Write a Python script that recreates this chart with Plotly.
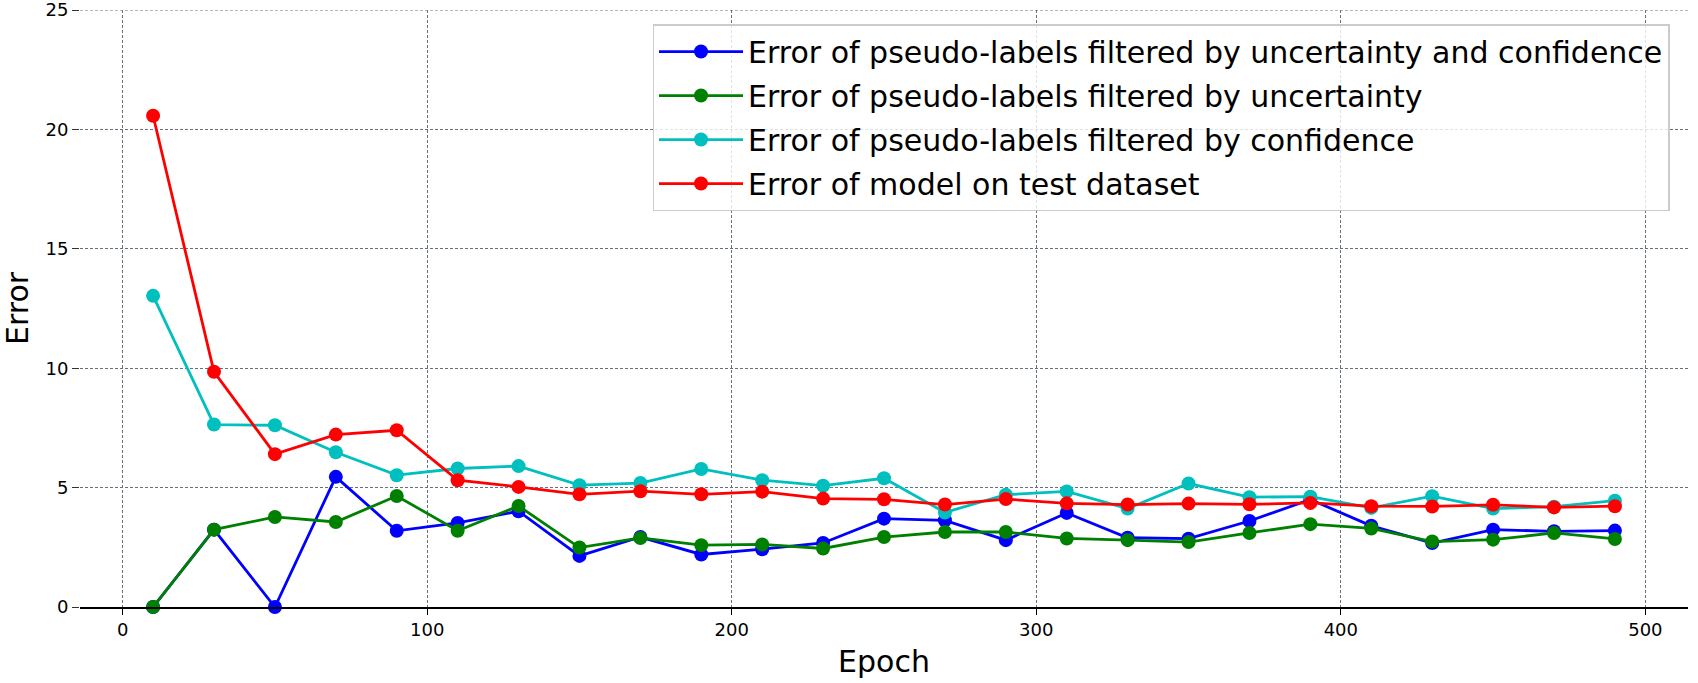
import plotly.graph_objects as go

epochs = [10, 30, 50, 70, 90, 110, 130, 150, 170, 190, 210, 230, 250,
          270, 290, 310, 330, 350, 370, 390, 410, 430, 450, 470, 490]

err_unc_conf = [0.0, 3.24, 0.0, 5.45, 3.19, 3.52, 4.01, 2.14, 2.93, 2.20, 2.42, 2.68, 3.70,
                3.63, 2.80, 3.94, 2.90, 2.86, 3.60, 4.50, 3.40, 2.68, 3.24, 3.17, 3.20]
err_unc = [0.0, 3.24, 3.77, 3.56, 4.65, 3.19, 4.23, 2.49, 2.89, 2.59, 2.62, 2.45, 2.93,
           3.14, 3.14, 2.87, 2.80, 2.72, 3.10, 3.47, 3.29, 2.74, 2.82, 3.10, 2.85]
err_conf = [13.03, 7.64, 7.61, 6.48, 5.52, 5.80, 5.90, 5.10, 5.19, 5.78, 5.31, 5.08, 5.39,
            3.96, 4.70, 4.84, 4.12, 5.17, 4.60, 4.62, 4.15, 4.64, 4.12, 4.20, 4.45]
err_test = [20.57, 9.85, 6.40, 7.22, 7.40, 5.31, 5.03, 4.72, 4.85, 4.72, 4.83, 4.54, 4.51,
            4.29, 4.52, 4.34, 4.29, 4.33, 4.30, 4.36, 4.22, 4.21, 4.28, 4.17, 4.22]

series_names = [
    "Error of pseudo-labels filtered by uncertainty and confidence",
    "Error of pseudo-labels filtered by uncertainty",
    "Error of pseudo-labels filtered by confidence",
    "Error of model on test dataset",
]
series_values = [err_unc_conf, err_unc, err_conf, err_test]
series_colors = ["#0000ff", "#008000", "#00bfbf", "#ff0000"]

x_ticks = [0, 100, 200, 300, 400, 500]
y_ticks = [0, 5, 10, 15, 20, 25]

FONT = "DejaVu Sans"
GRID_COLOR = "#66717c"
GRID_DASH = "3px,2px"

fig = go.Figure()
for i, (name, vals, col) in enumerate(zip(series_names, series_values, series_colors)):
    fig.add_trace(go.Scatter(
        x=epochs, y=vals, name=name, mode="lines+markers",
        line=dict(color=col, width=2.8),
        marker=dict(color=col, size=14),
        legendgroup=f"g{i}",
        cliponaxis=False,
    ))

grid = dict(showgrid=True, gridcolor=GRID_COLOR, griddash=GRID_DASH, gridwidth=1)

# top gridline at the upper edge of the y range (plotly skips gridlines at the range ends)
fig.add_shape(type="line", xref="paper", yref="y", x0=0, x1=1, y0=y_ticks[-1], y1=y_ticks[-1],
              line=dict(color=GRID_COLOR, width=1, dash=GRID_DASH), layer="below")

fig.update_layout(
    width=1698, height=683,
    margin=dict(l=80, r=10, t=10, b=76),
    paper_bgcolor="white", plot_bgcolor="white",
    font=dict(family=FONT, color="black"),
    showlegend=True,
    legend=dict(
        x=0.9885, y=0.9765, xanchor="right", yanchor="top",
        bgcolor="rgba(255,255,255,0.8)", bordercolor="#cccccc", borderwidth=1.5,
        font=dict(family=FONT, size=30, color="black"),
        tracegroupgap=2, itemwidth=84,
    ),
    xaxis=dict(
        range=[-14, 514], tickvals=x_ticks, ticktext=[str(v) for v in x_ticks],
        ticks="outside", ticklen=6, tickwidth=1.3, tickcolor="black",
        tickfont=dict(family=FONT, size=18, color="black"),
        showline=True, linecolor="black", linewidth=1.5,
        zeroline=False, automargin=False, ticklabeloverflow="allow",
        title=dict(text="Epoch", font=dict(family=FONT, size=30, color="black"), standoff=12),
        **grid,
    ),
    yaxis=dict(
        range=[-0.0001, 25.0001], tickvals=y_ticks, ticktext=[str(v) for v in y_ticks],
        ticks="outside", ticklen=7, tickwidth=1.3, tickcolor="#333333",
        tickfont=dict(family=FONT, size=18, color="black"),
        showline=False, zeroline=False, automargin=False, ticklabeloverflow="allow",
        title=dict(text="Error", font=dict(family=FONT, size=30, color="black"), standoff=20),
        **grid,
    ),
)

fig.write_html("out.html", config={"displayModeBar": False},
               post_script="document.body.style.margin='0px';")
